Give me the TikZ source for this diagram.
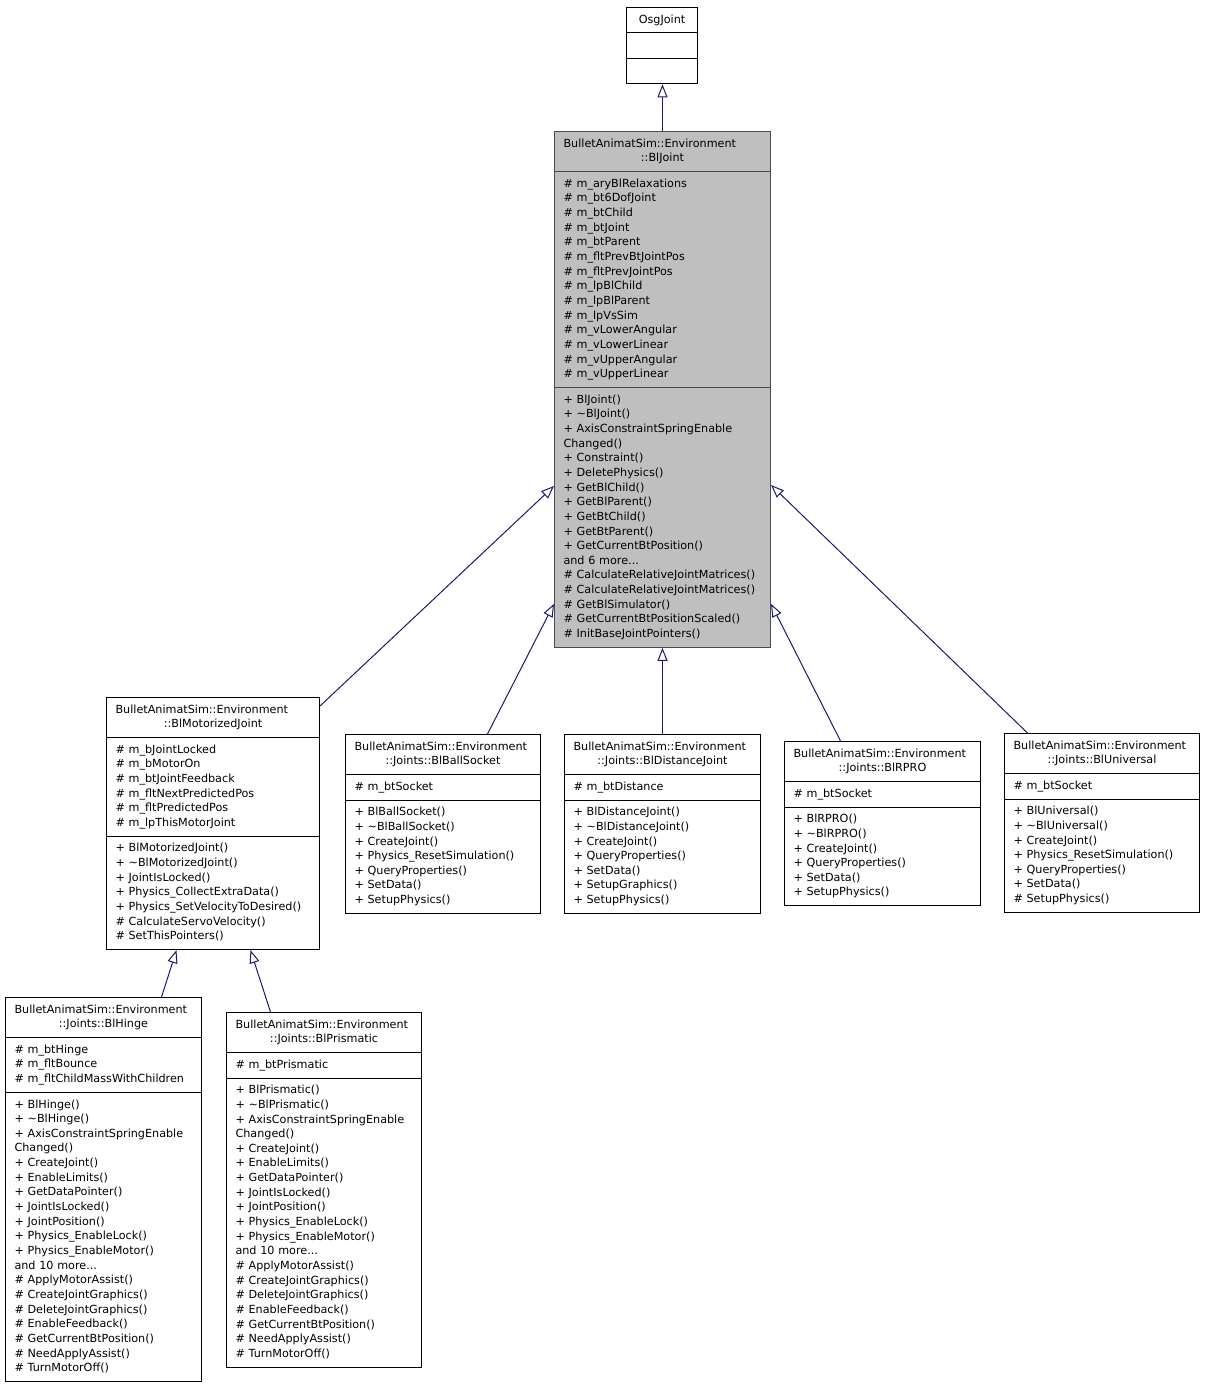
\documentclass[tikz,border=0pt]{standalone}
\usepackage{fontspec}
\setmainfont{DejaVu Sans}
\usetikzlibrary{arrows.meta,shapes.multipart}

\definecolor{edgeblue}{HTML}{191970}
\definecolor{basegray}{HTML}{BFBFBF}

% class title: first line flush left, second line centred
\newcommand{\envtitle}[1]{\makebox[\linewidth][l]{\strut BulletAnimatSim::Environment}\\\makebox[\linewidth][c]{#1}\strut}

\tikzset{
  classbox/.style={draw=black,line width=1pt,rectangle split,rectangle split parts=3,
    anchor=north west,inner xsep=9pt,inner ysep=4.9pt,align=left,
    font=\fontsize{11.2}{14.65}\selectfont},
  inherit/.style={draw=edgeblue,line width=1pt,-{Triangle[open,length=13pt,width=10pt]}},
}

\begin{document}
\begin{tikzpicture}[x=1pt,y=-1pt]
  \useasboundingbox (0,0) rectangle (1205,1388);
  % base classes
  \node[classbox,text width=53pt] (osg) at (626,7)
    {\makebox[\linewidth][c]{\strut OsgJoint} \nodepart{second}\strut \nodepart{third}\strut};
  \node[classbox,fill=basegray,draw=black!70,text width=198pt] (bljoint) at (554,131)
    {\envtitle{::BlJoint}
     \nodepart{second}\strut\# m\_aryBlRelaxations\\
     \# m\_bt6DofJoint\\
     \# m\_btChild\\
     \# m\_btJoint\\
     \# m\_btParent\\
     \# m\_fltPrevBtJointPos\\
     \# m\_fltPrevJointPos\\
     \# m\_lpBlChild\\
     \# m\_lpBlParent\\
     \# m\_lpVsSim\\
     \# m\_vLowerAngular\\
     \# m\_vLowerLinear\\
     \# m\_vUpperAngular\\
     \# m\_vUpperLinear\strut
     \nodepart{third}\strut+ BlJoint()\\
     + \textasciitilde BlJoint()\\
     + AxisConstraintSpringEnable\\
     Changed()\\
     + Constraint()\\
     + DeletePhysics()\\
     + GetBlChild()\\
     + GetBlParent()\\
     + GetBtChild()\\
     + GetBtParent()\\
     + GetCurrentBtPosition()\\
     and 6 more...\\
     \# CalculateRelativeJointMatrices()\\
     \# CalculateRelativeJointMatrices()\\
     \# GetBlSimulator()\\
     \# GetCurrentBtPositionScaled()\\
     \# InitBaseJointPointers()\strut};
  % derived classes, row 1
  \node[classbox,text width=195pt] (motor) at (106,697)
    {\envtitle{::BlMotorizedJoint}
     \nodepart{second}\strut\# m\_bJointLocked\\
     \# m\_bMotorOn\\
     \# m\_btJointFeedback\\
     \# m\_fltNextPredictedPos\\
     \# m\_fltPredictedPos\\
     \# m\_lpThisMotorJoint\strut
     \nodepart{third}\strut+ BlMotorizedJoint()\\
     + \textasciitilde BlMotorizedJoint()\\
     + JointIsLocked()\\
     + Physics\_CollectExtraData()\\
     + Physics\_SetVelocityToDesired()\\
     \# CalculateServoVelocity()\\
     \# SetThisPointers()\strut};
  \node[classbox,text width=177pt] (ball) at (345,734)
    {\envtitle{::Joints::BlBallSocket}
     \nodepart{second}\strut\# m\_btSocket\strut
     \nodepart{third}\strut+ BlBallSocket()\\
     + \textasciitilde BlBallSocket()\\
     + CreateJoint()\\
     + Physics\_ResetSimulation()\\
     + QueryProperties()\\
     + SetData()\\
     + SetupPhysics()\strut};
  \node[classbox,text width=178pt] (dist) at (564,734)
    {\envtitle{::Joints::BlDistanceJoint}
     \nodepart{second}\strut\# m\_btDistance\strut
     \nodepart{third}\strut+ BlDistanceJoint()\\
     + \textasciitilde BlDistanceJoint()\\
     + CreateJoint()\\
     + QueryProperties()\\
     + SetData()\\
     + SetupGraphics()\\
     + SetupPhysics()\strut};
  \node[classbox,text width=178pt] (rpro) at (784,741)
    {\envtitle{::Joints::BlRPRO}
     \nodepart{second}\strut\# m\_btSocket\strut
     \nodepart{third}\strut+ BlRPRO()\\
     + \textasciitilde BlRPRO()\\
     + CreateJoint()\\
     + QueryProperties()\\
     + SetData()\\
     + SetupPhysics()\strut};
  \node[classbox,text width=177pt] (univ) at (1004,733)
    {\envtitle{::Joints::BlUniversal}
     \nodepart{second}\strut\# m\_btSocket\strut
     \nodepart{third}\strut+ BlUniversal()\\
     + \textasciitilde BlUniversal()\\
     + CreateJoint()\\
     + Physics\_ResetSimulation()\\
     + QueryProperties()\\
     + SetData()\\
     \# SetupPhysics()\strut};
  % derived classes, row 2
  \node[classbox,text width=178pt] (hinge) at (5,997)
    {\envtitle{::Joints::BlHinge}
     \nodepart{second}\strut\# m\_btHinge\\
     \# m\_fltBounce\\
     \# m\_fltChildMassWithChildren\strut
     \nodepart{third}\strut+ BlHinge()\\
     + \textasciitilde BlHinge()\\
     + AxisConstraintSpringEnable\\
     Changed()\\
     + CreateJoint()\\
     + EnableLimits()\\
     + GetDataPointer()\\
     + JointIsLocked()\\
     + JointPosition()\\
     + Physics\_EnableLock()\\
     + Physics\_EnableMotor()\\
     and 10 more...\\
     \# ApplyMotorAssist()\\
     \# CreateJointGraphics()\\
     \# DeleteJointGraphics()\\
     \# EnableFeedback()\\
     \# GetCurrentBtPosition()\\
     \# NeedApplyAssist()\\
     \# TurnMotorOff()\strut};
  \node[classbox,text width=177pt] (prism) at (226,1012)
    {\envtitle{::Joints::BlPrismatic}
     \nodepart{second}\strut\# m\_btPrismatic\strut
     \nodepart{third}\strut+ BlPrismatic()\\
     + \textasciitilde BlPrismatic()\\
     + AxisConstraintSpringEnable\\
     Changed()\\
     + CreateJoint()\\
     + EnableLimits()\\
     + GetDataPointer()\\
     + JointIsLocked()\\
     + JointPosition()\\
     + Physics\_EnableLock()\\
     + Physics\_EnableMotor()\\
     and 10 more...\\
     \# ApplyMotorAssist()\\
     \# CreateJointGraphics()\\
     \# DeleteJointGraphics()\\
     \# EnableFeedback()\\
     \# GetCurrentBtPosition()\\
     \# NeedApplyAssist()\\
     \# TurnMotorOff()\strut};
  % inheritance arrows
  \draw[inherit] (bljoint.north) -- (bljoint.north |- osg.south);
  \draw[inherit] ([yshift=-9pt]motor.north east) -- ([yshift=-355pt]bljoint.north west);
  \draw[inherit] ([xshift=44.5pt]ball.north) -- ([yshift=44pt]bljoint.south west);
  \draw[inherit] (dist.north) -- (bljoint.south);
  \draw[inherit] ([xshift=-42pt]rpro.north) -- ([yshift=44pt]bljoint.south east);
  \draw[inherit] ([xshift=-74.5pt]univ.north) -- ([yshift=-354pt]bljoint.north east);
  \draw[inherit] ([xshift=58pt]hinge.north) -- ([xshift=-36.5pt]motor.south);
  \draw[inherit] ([xshift=-53.5pt]prism.north) -- ([xshift=37.5pt]motor.south);
\end{tikzpicture}
\end{document}
